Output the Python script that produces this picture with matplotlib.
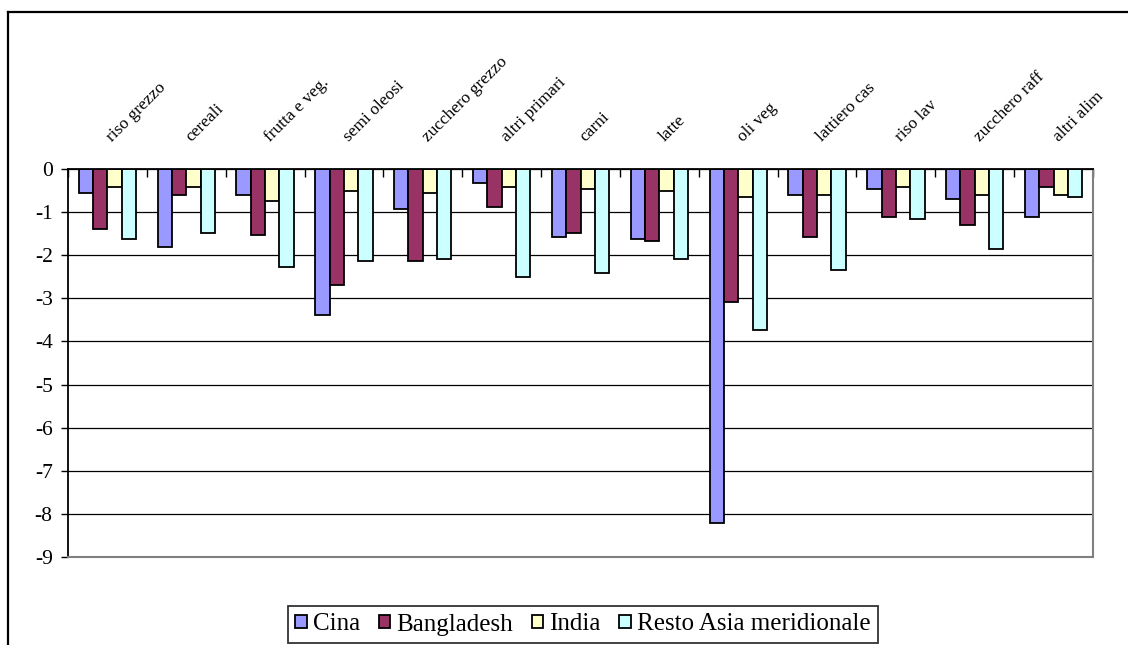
import matplotlib
matplotlib.use("Agg")
import matplotlib.pyplot as plt
import numpy as np
from matplotlib.lines import Line2D

# Variazioni percentuali per settore e regione
categories = ["riso grezzo", "cereali", "frutta e veg.", "semi oleosi",
              "zucchero grezzo", "altri primari", "carni", "latte",
              "oli veg", "lattiero cas", "riso lav", "zucchero raff",
              "altri alim"]
series_names = ["Cina", "Bangladesh", "India", "Resto Asia meridionale"]
cina = [-0.55, -1.81, -0.60, -3.38, -0.92, -0.33, -1.58, -1.62, -8.22,
        -0.60, -0.46, -0.69, -1.12]
bangladesh = [-1.39, -0.60, -1.53, -2.68, -2.13, -0.88, -1.48, -1.67, -3.08,
              -1.58, -1.12, -1.29, -0.42]
india = [-0.42, -0.42, -0.75, -0.50, -0.55, -0.42, -0.46, -0.50, -0.65,
         -0.60, -0.41, -0.60, -0.60]
resto = [-1.63, -1.48, -2.27, -2.13, -2.08, -2.50, -2.41, -2.08, -3.74,
         -2.35, -1.17, -1.85, -0.65]
y_ticks = [0, -1, -2, -3, -4, -5, -6, -7, -8, -9]

colors = ["#9999FF", "#993366", "#FFFFCC", "#CCFFFF"]

plt.rcParams["font.family"] = ["Liberation Serif", "DejaVu Serif"]

W, H = 1128, 645
fig = plt.figure(figsize=(W / 100, H / 100), dpi=100)
fig.patch.set_facecolor("white")

left, right, top, bottom = 68, 1093, 169, 557
ax = fig.add_axes([left / W, 1 - bottom / H, (right - left) / W, (bottom - top) / H])

n = len(categories)
bar_w = 1 / 5.5
x = np.arange(n) + 0.5
all_series = [cina, bangladesh, india, resto]
for k, (vals, col, name) in enumerate(zip(all_series, colors, series_names)):
    offs = (k - 1.5) * bar_w
    ax.bar(x + offs, vals, width=bar_w, color=col, edgecolor="black",
           linewidth=1.3, label=name, zorder=3)

ax.set_xlim(0, n)
ax.set_ylim(-9, 0)

# horizontal gridlines
ax.set_yticks(y_ticks)
ax.set_yticklabels([str(v) for v in y_ticks], fontsize=15.5)
ax.yaxis.grid(True, color="black", linewidth=0.9, zorder=0)
ax.set_axisbelow(True)
ax.tick_params(axis="y", direction="out", length=5, width=1.0, pad=6,
               colors="black")

# category axis at the top (value zero), ticks at category boundaries
ax.xaxis.tick_top()
ax.set_xticks(np.arange(n + 1))
ax.set_xticklabels([])
ax.tick_params(axis="x", direction="in", length=6, width=1.0, top=True,
               bottom=False)

for i, lab in enumerate(categories):
    ax.text(x[i] + 0.1, 1.062, lab, transform=ax.get_xaxis_transform(),
            rotation=45, rotation_mode="anchor", ha="left", va="bottom",
            fontsize=12.5, clip_on=False)

for side in ["left", "top"]:
    ax.spines[side].set_color("black")
    ax.spines[side].set_linewidth(1.3)
for side in ["right", "bottom"]:
    ax.spines[side].set_color("#808080")
    ax.spines[side].set_linewidth(1.5)
ax.spines["top"].set_zorder(4)

# legend below the plot
leg = fig.legend(loc="upper center", bbox_to_anchor=(583 / W, 1 - 606 / H),
                 ncol=4, fontsize=18, frameon=True, fancybox=False,
                 handlelength=0.45, handleheight=0.45, handletextpad=0.25,
                 columnspacing=0.75, borderpad=0.3, borderaxespad=0)
leg.get_frame().set_edgecolor("black")
leg.get_frame().set_linewidth(1.3)
for h in leg.legend_handles:
    h.set_linewidth(1.3)

# outer chart frame
fig.add_artist(Line2D([8 / W, 1.0], [1 - 12 / H, 1 - 12 / H], color="black",
                      linewidth=1.6, transform=fig.transFigure))
fig.add_artist(Line2D([8 / W, 8 / W], [1 - 12 / H, 0.0], color="black",
                      linewidth=1.6, transform=fig.transFigure))

fig.savefig("out.png", dpi=100, facecolor="white")
